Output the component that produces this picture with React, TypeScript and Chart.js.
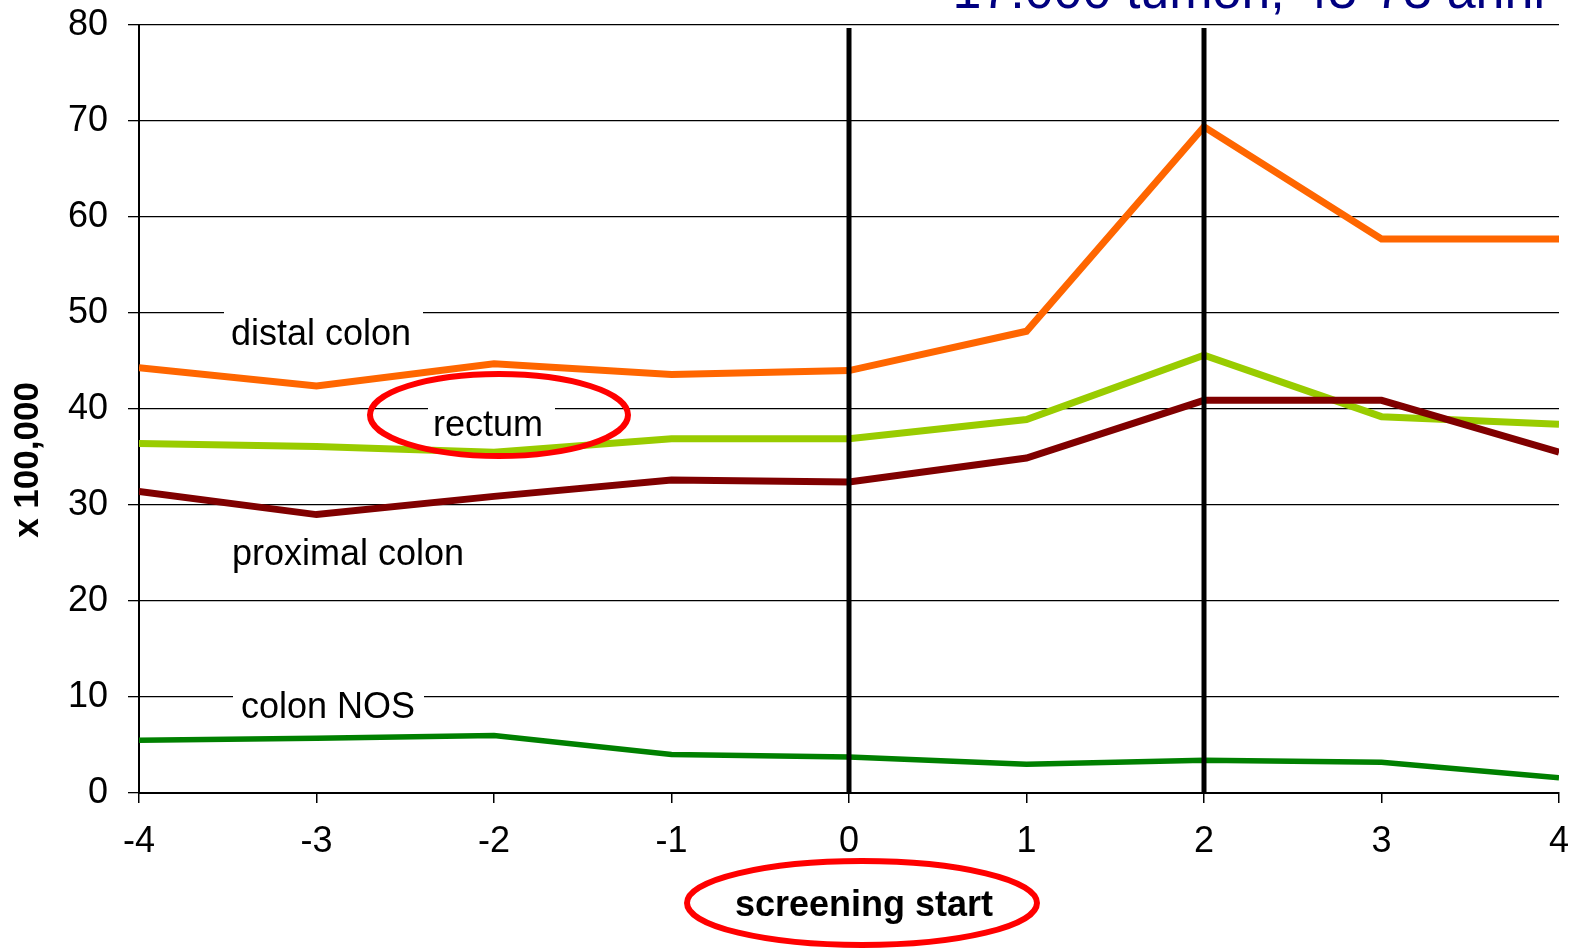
import React, { useEffect, useRef } from "react";
import { Chart, registerables } from "chart.js";

Chart.register(...registerables);

const years = [-4, -3, -2, -1, 0, 1, 2, 3, 4];
const distalColon = [44.3, 42.4, 44.7, 43.6, 44.0, 48.1, 69.4, 57.7, 57.7];
const rectum = [36.4, 36.1, 35.5, 36.9, 36.9, 38.9, 45.6, 39.2, 38.4];
const proximalColon = [31.4, 29.0, 30.9, 32.6, 32.4, 34.9, 40.9, 40.9, 35.5];
const colonNOS = [5.5, 5.7, 6.0, 4.0, 3.75, 3.0, 3.4, 3.2, 1.6];
const markerYears = [0, 2];

const titleText = "17.000 tumori, 45-75 anni";
const yTitle = "x 100,000";
const xTitle = "screening start";

const FONT = "'Liberation Sans', Arial, sans-serif";

const toPoints = (vals: number[]) => years.map((x, i) => ({ x, y: vals[i] }));

const annotations = {
  id: "annotations",
  beforeDatasetsDraw(chart: any) {
    const ctx = chart.ctx;
    ctx.save();
    ctx.font = `36px ${FONT}`;
    ctx.textBaseline = "alphabetic";
    ctx.textAlign = "left";
    const labels = [
      { t: "distal colon", x: 231, y: 345, gap: [224, 423], gy: 50 },
      { t: "rectum", x: 433, y: 436, gap: [428, 555], gy: 40 },
      { t: "proximal colon", x: 232, y: 565, gap: null, gy: 0 },
      { t: "colon NOS", x: 241, y: 718, gap: [233, 424], gy: 10 },
    ];
    const ys = chart.scales.y;
    for (const l of labels) {
      if (l.gap) {
        const py = ys.getPixelForValue(l.gy);
        ctx.fillStyle = "#fff";
        ctx.fillRect(l.gap[0], py - 3, l.gap[1] - l.gap[0], 6);
      }
      ctx.fillStyle = "#000";
      ctx.fillText(l.t, l.x, l.y);
    }
    ctx.restore();
  },
  afterDatasetsDraw(chart: any) {
    const ctx = chart.ctx;
    const xs = chart.scales.x;
    const area = chart.chartArea;
    ctx.save();
    ctx.strokeStyle = "#000";
    ctx.lineWidth = 5;
    for (const m of markerYears) {
      const px = xs.getPixelForValue(m);
      ctx.beginPath();
      ctx.moveTo(px, area.top + 3);
      ctx.lineTo(px, area.bottom);
      ctx.stroke();
    }
    ctx.strokeStyle = "#ff0000";
    ctx.lineWidth = 6;
    ctx.beginPath();
    ctx.ellipse(499, 415, 129, 41, 0, 0, Math.PI * 2);
    ctx.stroke();
    ctx.beginPath();
    ctx.ellipse(862, 903, 175, 42, 0, 0, Math.PI * 2);
    ctx.stroke();
    ctx.fillStyle = "#000";
    ctx.font = `bold 36px ${FONT}`;
    ctx.textAlign = "center";
    ctx.textBaseline = "alphabetic";
    ctx.fillText(xTitle, 864, 916);
    ctx.save();
    ctx.translate(28, 460);
    ctx.rotate(-Math.PI / 2);
    ctx.font = `bold 35px ${FONT}`;
    ctx.textAlign = "center";
    ctx.textBaseline = "middle";
    ctx.fillText(yTitle, 0, 0);
    ctx.restore();
    ctx.fillStyle = "#000080";
    ctx.font = `52px ${FONT}`;
    ctx.textAlign = "right";
    ctx.textBaseline = "alphabetic";
    ctx.fillText(titleText, 1545, 8);
    ctx.restore();
  },
};

export default function App() {
  const ref = useRef<HTMLCanvasElement | null>(null);
  useEffect(() => {
    document.body.style.margin = "0";
    const canvas = ref.current;
    if (!canvas) return;
    const mk = (label: string, vals: number[], color: string, w: number) => ({
      label,
      data: toPoints(vals),
      borderColor: color,
      backgroundColor: color,
      borderWidth: w,
      pointRadius: 0,
      tension: 0,
      fill: false,
      borderJoinStyle: "miter" as const,
    });
    const chart = new Chart(canvas, {
      type: "line",
      data: {
        datasets: [
          mk("colon NOS", colonNOS, "#008000", 5.5),
          mk("proximal colon", proximalColon, "#800000", 7),
          mk("rectum", rectum, "#99cc00", 7),
          mk("distal colon", distalColon, "#ff6600", 7),
        ],
      },
      options: {
        responsive: false,
        animation: false,
        layout: { padding: { top: 25, right: 16, left: 0, bottom: 0 } },
        plugins: {
          legend: { display: false },
          tooltip: { enabled: false },
          title: { display: false },
        },
        scales: {
          x: {
            type: "linear",
            min: -4,
            max: 4,
            afterFit: (s: any) => {
              s.height = 157;
              s.paddingLeft = 0;
              s.paddingRight = 0;
              s.paddingTop = 0;
              s.paddingBottom = 0;
            },
            ticks: {
              stepSize: 1,
              color: "#000",
              font: { family: FONT, size: 36 },
              padding: 17,
            },
            grid: {
              drawOnChartArea: false,
              drawTicks: true,
              tickLength: 10,
              color: "#000",
              lineWidth: 1.5,
            },
            border: { display: true, color: "#000", width: 2 },
          },
          y: {
            type: "linear",
            min: 0,
            max: 80,
            afterFit: (s: any) => {
              s.width = 139;
              s.paddingLeft = 0;
              s.paddingRight = 0;
              s.paddingTop = 0;
              s.paddingBottom = 0;
            },
            ticks: {
              stepSize: 10,
              color: "#000",
              font: { family: FONT, size: 36 },
              padding: 20,
            },
            grid: {
              color: "#000",
              lineWidth: 1.3,
              tickLength: 11,
            },
            border: { display: true, color: "#000", width: 2 },
          },
        },
      },
      plugins: [annotations],
    });
    return () => chart.destroy();
  }, []);
  return (
    <div style={{ position: "fixed", left: 0, top: 0, width: 1575, height: 950, background: "#fff" }}>
      <canvas ref={ref} width={1575} height={950} />
    </div>
  );
}
